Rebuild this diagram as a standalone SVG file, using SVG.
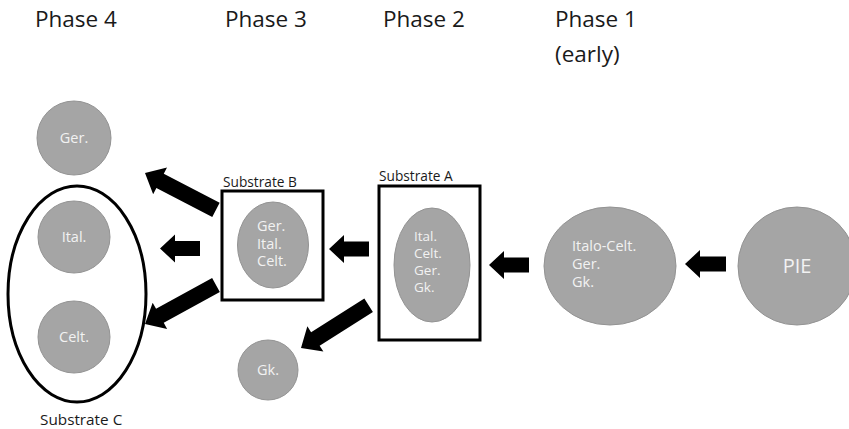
<svg xmlns="http://www.w3.org/2000/svg" width="849" height="429" viewBox="0 0 849 429">
<style>
text{font-family:"Open Sans","Liberation Sans",sans-serif}
.phase{font-size:22.5px;fill:#1a1a1a}
.sub{font-size:13.7px;fill:#1a1a1a}
.node{fill:#a5a5a5;stroke:#939393;stroke-width:1}
.nt{font-size:14.5px;fill:#f2f2f2}
.ntA{font-size:13.5px}
.frame{fill:none;stroke:#000;stroke-width:3}
.arrow{fill:#000}
</style>
<rect width="849" height="429" fill="#fff"/>
<g id="headers">
<text class="phase" x="35" y="27">Phase 4</text>
<text class="phase" x="225" y="27">Phase 3</text>
<text class="phase" x="383" y="27">Phase 2</text>
<text class="phase" x="555" y="27">Phase 1</text>
<text class="phase" x="555" y="62">(early)</text>
</g>
<g id="substrateC">
<ellipse class="frame" cx="77" cy="294" rx="69" ry="108"/>
<text class="sub" x="40" y="425" style="font-size:15.3px">Substrate C</text>
</g>
<g id="ger">
<circle class="node" cx="74" cy="138" r="37"/>
<text class="nt" x="74" y="143" text-anchor="middle">Ger.</text>
</g>
<g id="ital">
<circle class="node" cx="74" cy="237" r="36"/>
<text class="nt" x="74" y="242" text-anchor="middle">Ital.</text>
</g>
<g id="celt">
<circle class="node" cx="74" cy="337" r="36"/>
<text class="nt" x="74" y="342" text-anchor="middle">Celt.</text>
</g>
<g id="substrateB">
<rect class="frame" x="222" y="191" width="101" height="109"/>
<text class="sub" x="223" y="187">Substrate B</text>
<ellipse class="node" cx="273" cy="245" rx="35.5" ry="43"/>
<text class="nt" x="257" y="231">Ger.</text>
<text class="nt" x="257" y="248.5">Ital.</text>
<text class="nt" x="257" y="266">Celt.</text>
</g>
<g id="gk">
<circle class="node" cx="268" cy="370" r="30"/>
<text class="nt" x="268" y="375" text-anchor="middle">Gk.</text>
</g>
<g id="substrateA">
<rect class="frame" x="379" y="186" width="101" height="154"/>
<text class="sub" x="379" y="181">Substrate A</text>
<ellipse class="node" cx="432" cy="265" rx="38" ry="57"/>
<text class="nt ntA" x="414" y="241">Ital.</text>
<text class="nt ntA" x="414" y="258">Celt.</text>
<text class="nt ntA" x="414" y="275">Ger.</text>
<text class="nt ntA" x="414" y="292">Gk.</text>
</g>
<g id="italoCelt">
<ellipse class="node" cx="610" cy="266" rx="66" ry="59"/>
<text class="nt" x="572" y="251">Italo-Celt.</text>
<text class="nt" x="572" y="269">Ger.</text>
<text class="nt" x="572" y="287">Gk.</text>
</g>
<g id="pie">
<circle class="node" cx="797" cy="266" r="59"/>
<text class="nt" x="797" y="273" text-anchor="middle" style="font-size:20px">PIE</text>
</g>
<g id="connectors">
<path class="arrow" transform="translate(685,264)" d="M0,0 L15,-14 L15,-7.5 L41,-7.5 L41,7.5 L15,7.5 L15,14 Z"/>
<path class="arrow" transform="translate(489,265)" d="M0,0 L15,-14 L15,-7.5 L40,-7.5 L40,7.5 L15,7.5 L15,14 Z"/>
<path class="arrow" transform="translate(329,249)" d="M0,0 L15,-14 L15,-7.5 L40,-7.5 L40,7.5 L15,7.5 L15,14 Z"/>
<path class="arrow" transform="translate(301,348) rotate(-32.3)" d="M0,0 L17,-15 L17,-8 L80,-8 L80,8 L17,8 L17,15 Z"/>
<path class="arrow" transform="translate(145,173) rotate(27.5)" d="M0,0 L17,-15 L17,-8 L80,-8 L80,8 L17,8 L17,15 Z"/>
<path class="arrow" transform="translate(160,248.5)" d="M0,0 L15,-14 L15,-7.5 L40,-7.5 L40,7.5 L15,7.5 L15,14 Z"/>
<path class="arrow" transform="translate(145,324) rotate(-28.8)" d="M0,0 L17,-15 L17,-8 L81,-8 L81,8 L17,8 L17,15 Z"/>
</g>
</svg>
